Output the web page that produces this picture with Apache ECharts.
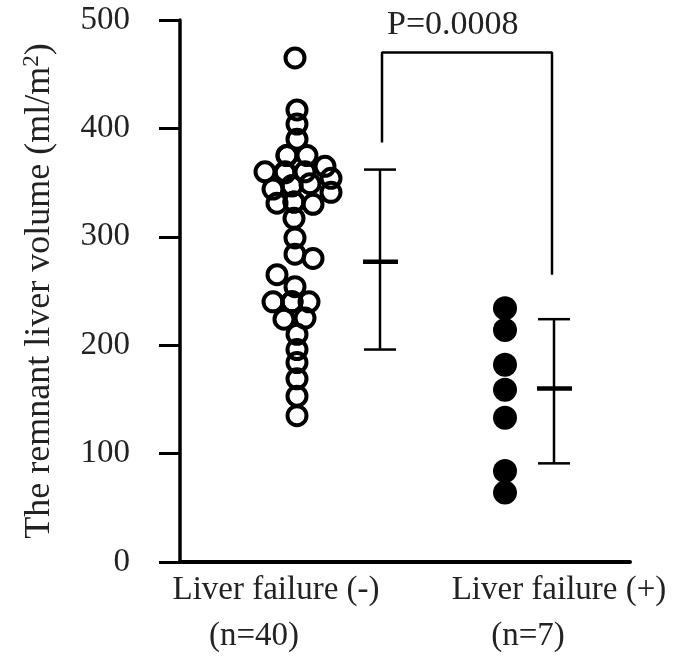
<!DOCTYPE html>
<html>
<head>
<meta charset="utf-8">
<script src="https://cdn.jsdelivr.net/npm/echarts@6/dist/echarts.min.js"></script>
<style>
  html, body { margin: 0; background: #fff; }
  #chart { width: 675px; height: 663px; }
</style>
</head>
<body>
<div id="chart"></div>
<script>
// remnant liver volume (ml/m2), liver failure (-) group, with beeswarm spread
// (the last few are hidden behind others in the original cluster)
var negValues = [465, 417, 404, 390, 375, 375, 360, 359, 360, 365, 354, 344, 347, 349, 341,
                 331, 332, 330, 317, 299, 284, 280, 265, 254, 240, 240, 240, 224, 225, 210,
                 196, 184, 169, 153, 135, 375, 360, 347, 332, 240];
var negSpread = [0, 2, 2, 2, -8, 12, -30, -10, 10, 30, 36, -22, -3, 15, 36,
                 -18, -1, 18, -1, 0, 0, 18, -18, 0, -22, -3, 14, -11, 10, 2,
                 2, 2, 2, 2, 2, -8, -10, -3, -1, -3];
// liver failure (+) group
var posValues = [234, 214, 182, 159, 133, 84, 64];

// mean and error bars: [low, mean, high]
var negStats = [196, 277, 362];
var posStats = [91, 160, 224];

var yTicks = [0, 100, 200, 300, 400, 500];
var groupLabels = ['Liver failure (-)', 'Liver failure (+)'];
var groupCounts = ['(n=40)', '(n=7)'];
var pText = 'P=0.0008';
// bracket heights: left foot, top, right foot
var bracketVals = [387, 470, 265];

var FONT = '"Liberation Serif", "DejaVu Serif", serif';
var negX = 115, posX = 325, negBarX = 200, posBarX = 374;

var chart = echarts.init(document.getElementById('chart'));

var option = {
  animation: false,
  backgroundColor: '#fff',
  grid: { left: 180, right: 45, top: 20, bottom: 101 },
  xAxis: {
    type: 'value', min: 0, max: 450,
    axisLine: { show: true, lineStyle: { color: '#000', width: 4 } },
    axisTick: { show: false },
    axisLabel: { show: false },
    splitLine: { show: false }
  },
  yAxis: {
    type: 'value', min: yTicks[0], max: yTicks[yTicks.length - 1], interval: 100,
    name: 'The remnant liver volume (ml/m{sup|2})',
    nameLocation: 'middle',
    nameGap: 121,
    nameTextStyle: {
      fontFamily: FONT, fontSize: 36, color: '#222',
      rich: { sup: { fontFamily: FONT, fontSize: 23, color: '#222', padding: [0, 0, 16, 0] } }
    },
    axisLine: { show: true, lineStyle: { color: '#000', width: 3.5 } },
    axisTick: { show: true, inside: false, length: 21, lineStyle: { color: '#000', width: 3 } },
    axisLabel: { fontFamily: FONT, fontSize: 33, color: '#222', margin: 50 },
    splitLine: { show: false }
  },
  series: [
    {
      type: 'scatter',
      symbol: 'circle',
      symbolSize: 19,
      itemStyle: { color: 'rgba(0,0,0,0)', borderColor: '#000', borderWidth: 4, opacity: 1 },
      data: negValues.map(function (v, i) { return [negX + negSpread[i], v]; })
    },
    {
      type: 'scatter',
      symbol: 'circle',
      symbolSize: 24,
      itemStyle: { color: '#000', opacity: 1 },
      data: posValues.map(function (v) { return [posX, v]; })
    },
    {
      type: 'custom',
      data: [[negBarX].concat(negStats), [posBarX].concat(posStats)],
      renderItem: function (params, api) {
        var x = api.value(0);
        var lo = api.coord([x, api.value(1)]);
        var mid = api.coord([x, api.value(2)]);
        var hi = api.coord([x, api.value(3)]);
        var st = { stroke: '#000', lineWidth: 2.5 };
        return {
          type: 'group',
          children: [
            { type: 'line', shape: { x1: hi[0], y1: hi[1], x2: lo[0], y2: lo[1] }, style: st },
            { type: 'line', shape: { x1: hi[0] - 16, y1: hi[1], x2: hi[0] + 16, y2: hi[1] }, style: st },
            { type: 'line', shape: { x1: lo[0] - 16, y1: lo[1], x2: lo[0] + 16, y2: lo[1] }, style: st },
            { type: 'line', shape: { x1: mid[0] - 17, y1: mid[1], x2: mid[0] + 18, y2: mid[1] },
              style: { stroke: '#000', lineWidth: 4.5 } }
          ]
        };
      }
    },
    {
      type: 'line',
      symbol: 'none',
      lineStyle: { color: '#000', width: 2.5 },
      data: [[negBarX + 2, bracketVals[0]], [negBarX + 2, bracketVals[1]],
             [posBarX - 2, bracketVals[1]], [posBarX - 2, bracketVals[2]]]
    }
  ],
  graphic: [
    { type: 'text', left: 387, top: 8, style: { text: pText, font: '34px ' + FONT, fill: '#222' } },
    { type: 'text', x: 276, y: 590, style: { text: groupLabels[0], font: '33px ' + FONT, fill: '#222', align: 'center', verticalAlign: 'middle' } },
    { type: 'text', x: 254, y: 636, style: { text: groupCounts[0], font: '33px ' + FONT, fill: '#222', align: 'center', verticalAlign: 'middle' } },
    { type: 'text', x: 559, y: 590, style: { text: groupLabels[1], font: '33px ' + FONT, fill: '#222', align: 'center', verticalAlign: 'middle' } },
    { type: 'text', x: 528, y: 636, style: { text: groupCounts[1], font: '33px ' + FONT, fill: '#222', align: 'center', verticalAlign: 'middle' } }
  ]
};

chart.setOption(option);
</script>
</body>
</html>
